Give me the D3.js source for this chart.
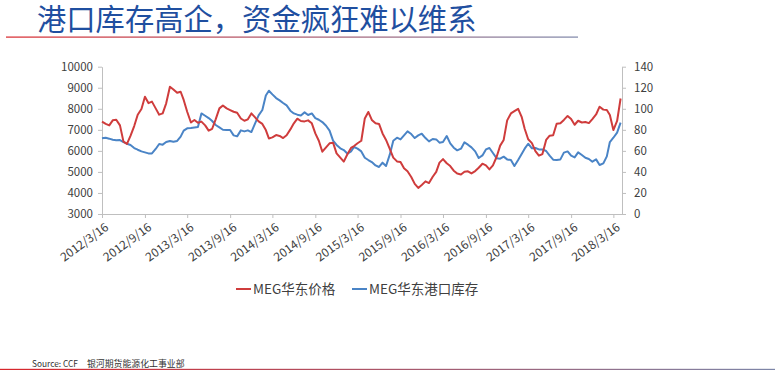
<!DOCTYPE html>
<html>
<head>
<meta charset="utf-8">
<script src="https://cdnjs.cloudflare.com/ajax/libs/d3/7.8.5/d3.min.js"></script>
<style>
  html, body { margin: 0; padding: 0; background: #fff; }
  svg { display: block; font-family: "Noto Sans CJK SC", "Noto Sans", sans-serif; }
</style>
</head>
<body>
<svg id="chart" width="775" height="373"></svg>
<script>
// half-monthly samples
var dates = [
  "2012-03-16","2012-04-01","2012-04-16","2012-05-01","2012-05-16","2012-06-01","2012-06-16","2012-07-01","2012-07-16","2012-08-01","2012-08-16","2012-09-01","2012-09-16","2012-10-01","2012-10-16","2012-11-01","2012-11-16","2012-12-01","2012-12-16",
  "2013-01-01","2013-01-16","2013-02-01","2013-02-16","2013-03-01","2013-03-16","2013-04-01","2013-04-16","2013-05-01","2013-05-16","2013-06-01","2013-06-16","2013-07-01","2013-07-16","2013-08-01","2013-08-16","2013-09-01","2013-09-16","2013-10-01","2013-10-16","2013-11-01","2013-11-16","2013-12-01","2013-12-16",
  "2014-01-01","2014-01-16","2014-02-01","2014-02-16","2014-03-01","2014-03-16","2014-04-01","2014-04-16","2014-05-01","2014-05-16","2014-06-01","2014-06-16","2014-07-01","2014-07-16","2014-08-01","2014-08-16","2014-09-01","2014-09-16","2014-10-01","2014-10-16","2014-11-01","2014-11-16","2014-12-01","2014-12-16",
  "2015-01-01","2015-01-16","2015-02-01","2015-02-16","2015-03-01","2015-03-16","2015-04-01","2015-04-16","2015-05-01","2015-05-16","2015-06-01","2015-06-16","2015-07-01","2015-07-16","2015-08-01","2015-08-16","2015-09-01","2015-09-16","2015-10-01","2015-10-16","2015-11-01","2015-11-16","2015-12-01","2015-12-16",
  "2016-01-01","2016-01-16","2016-02-01","2016-02-16","2016-03-01","2016-03-16","2016-04-01","2016-04-16","2016-05-01","2016-05-16","2016-06-01","2016-06-16","2016-07-01","2016-07-16","2016-08-01","2016-08-16","2016-09-01","2016-09-16","2016-10-01","2016-10-16","2016-11-01","2016-11-16","2016-12-01","2016-12-16",
  "2017-01-01","2017-01-16","2017-02-01","2017-02-16","2017-03-01","2017-03-16","2017-04-01","2017-04-16","2017-05-01","2017-05-16","2017-06-01","2017-06-16","2017-07-01","2017-07-16","2017-08-01","2017-08-16","2017-09-01","2017-09-16","2017-10-01","2017-10-16","2017-11-01","2017-11-16","2017-12-01","2017-12-16",
  "2018-01-01","2018-01-16","2018-02-01","2018-02-16","2018-03-01","2018-03-16","2018-04-01","2018-04-16"
];

// MEG华东价格 (left axis)
var price = [
  7390,7280,7210,7450,7480,7210,6440,6330,6710,7180,
  7720,7990,8570,8270,8340,8020,7720,7780,8260,9050,
  8920,8760,8810,8420,7860,7350,7470,7340,7390,7210,
  6960,7050,7500,8020,8160,8020,7940,7860,7810,7540,
  7430,7500,7780,7590,7400,7280,6990,6590,6640,6750,
  6710,6610,6740,7020,7310,7530,7420,7400,7450,7310,
  6830,6480,5960,6170,6360,6390,5880,5680,5490,5850,
  6140,6230,6360,6480,7540,7850,7470,7310,7280,6830,
  6520,6100,5680,5500,5470,5170,5030,4760,4430,4240,
  4380,4550,4470,4770,5000,5440,5610,5410,5280,5060,
  4920,4880,5010,5030,4930,5040,5200,5390,5310,5120,
  5310,5720,6250,6520,7450,7780,7890,8000,7620,7050,
  6550,6370,5990,5770,5850,6520,6720,6740,7290,7310,
  7470,7660,7510,7240,7430,7350,7370,7320,7510,7730,
  8100,7960,7940,7700,6990,7420,8490
];

// MEG华东港口库存 (right axis)
var stock = [
  71.9,72.5,71.6,70.6,70.0,70.3,68.4,66.8,65.6,62.7,
  61.1,59.5,58.6,57.6,57.6,61.8,66.5,65.9,68.4,69.4,
  68.7,69.4,73.5,79.2,81.4,81.7,82.3,82.7,95.6,93.4,
  91.2,88.4,84.6,82.3,80.1,79.8,79.8,74.7,73.8,79.5,
  78.5,79.5,77.9,86.1,93.7,98.8,112.7,117.2,113.7,110.2,
  108.0,105.5,103.2,98.2,95.6,94.4,93.7,96.6,94.1,95.6,
  91.2,89.6,87.4,83.9,79.2,69.7,65.6,62.4,60.8,57.3,
  59.5,63.7,62.1,59.5,53.5,51.3,49.4,46.2,44.7,48.8,
  45.6,56.4,69.7,72.5,70.9,74.7,78.5,76.0,72.2,74.7,
  76.3,72.2,69.0,71.3,70.9,67.8,68.4,74.1,67.1,63.0,
  60.5,62.1,68.1,65.9,63.3,59.5,53.2,55.7,61.4,62.7,
  58.0,52.9,52.6,54.5,51.9,51.3,45.6,51.3,57.0,62.1,
  66.8,62.4,62.7,61.4,61.4,59.9,55.4,51.6,51.3,51.9,
  58.3,59.5,55.4,53.8,58.6,56.1,53.5,52.3,49.7,51.9,
  46.6,48.1,54.8,68.4,72.5,77.3,86.8
];

var xTickLabels = ["2012/3/16","2012/9/16","2013/3/16","2013/9/16","2014/3/16","2014/9/16","2015/3/16",
  "2015/9/16","2016/3/16","2016/9/16","2017/3/16","2017/9/16","2018/3/16"];
var leftTicks = [3000,4000,5000,6000,7000,8000,9000,10000];
var rightTicks = [0,20,40,60,80,100,120,140];
var seriesNames = ["MEG华东价格", "MEG华东港口库存"];

var svg = d3.select("#chart");
var parseDay = d3.timeParse("%Y-%m-%d"),
  parseTick = d3.timeParse("%Y/%m/%d");

var data = dates.map(function(d, i) {
  return {date: parseDay(d), price: price[i], stock: stock[i]};
});

var margin = {left: 102, right: 622, top: 66.7, bottom: 214};

var x = d3.scaleTime()
  .domain([parseDay("2012-03-16"), parseDay("2018-04-22")])
  .range([margin.left, margin.right]);
var yL = d3.scaleLinear().domain([3000, 10000]).range([margin.bottom, margin.top]);
var yR = d3.scaleLinear().domain([0, 140]).range([margin.bottom, margin.top]);

// gradient rules (title underline and footer line)
var defs = svg.append("defs");
var grad = defs.append("linearGradient").attr("id", "rule").attr("x1", "0%").attr("x2", "100%");
grad.append("stop").attr("offset", "0%").attr("stop-color", "#d8262b");
grad.append("stop").attr("offset", "100%").attr("stop-color", "#7d86a8");

svg.append("text")
  .attr("x", 37).attr("y", 30)
  .attr("font-size", "29.3px")
  .attr("fill", "#1f4fa0")
  .text("港口库存高企，资金疯狂难以维系");

svg.append("rect").attr("x", 6).attr("y", 36.5).attr("width", 572).attr("height", 1.2).attr("fill", "url(#rule)");
svg.append("rect").attr("x", 0).attr("y", 368.8).attr("width", 775).attr("height", 1.2).attr("fill", "url(#rule)");

// axes
function styleAxis(g) {
  g.select(".domain").attr("stroke", "#bfbfbf");
  g.selectAll(".tick line").attr("stroke", "#bfbfbf");
  g.selectAll(".tick text").attr("fill", "#404040").style("font-size", "11.5px")
    .style("font-family", "'Noto Sans CJK SC', sans-serif");
}

svg.append("g")
  .attr("transform", "translate(" + margin.left + ",0)")
  .call(d3.axisLeft(yL).tickValues(leftTicks).tickFormat(d3.format("d"))
    .tickSize(4).tickPadding(5).tickSizeOuter(0))
  .call(styleAxis);

svg.append("g")
  .attr("transform", "translate(" + margin.right + ",0)")
  .call(d3.axisRight(yR).tickValues(rightTicks).tickSize(4).tickPadding(8).tickSizeOuter(0))
  .call(styleAxis);

var xAxis = svg.append("g")
  .attr("transform", "translate(0," + margin.bottom + ")")
  .call(d3.axisBottom(x)
    .tickValues(xTickLabels.map(function(s) { return parseTick(s); }))
    .tickFormat(function(d, i) { return xTickLabels[i]; })
    .tickSize(4).tickSizeOuter(0))
  .call(styleAxis);

xAxis.selectAll(".tick text")
  .attr("text-anchor", "end")
  .attr("dy", null)
  .attr("y", 0)
  .style("font-size", "12px")
  .attr("transform", "translate(7,15) rotate(-36)");

// lines
var priceLine = d3.line()
  .x(function(d) { return x(d.date); })
  .y(function(d) { return yL(d.price); });
var stockLine = d3.line()
  .x(function(d) { return x(d.date); })
  .y(function(d) { return yR(d.stock); });

svg.append("path").datum(data)
  .attr("fill", "none").attr("stroke", "#4a84c6").attr("stroke-width", 2)
  .attr("stroke-linejoin", "round")
  .attr("d", stockLine);

svg.append("path").datum(data)
  .attr("fill", "none").attr("stroke", "#cf3c3c").attr("stroke-width", 2)
  .attr("stroke-linejoin", "round")
  .attr("d", priceLine);

// legend
var legendColors = ["#cf3c3c", "#4a84c6"];
var legendX = [236, 352];
var legend = svg.selectAll(".legend")
  .data(seriesNames)
  .enter().append("g")
  .attr("class", "legend")
  .attr("transform", function(d, i) { return "translate(" + legendX[i] + ",289)"; });

legend.append("line")
  .attr("x1", 0).attr("x2", 15).attr("y1", 0).attr("y2", 0)
  .attr("stroke", function(d, i) { return legendColors[i]; })
  .attr("stroke-width", 2);

legend.append("text")
  .attr("x", 17).attr("y", 4.5)
  .attr("font-size", "13.5px")
  .attr("fill", "#404040")
  .text(function(d) { return d; });

svg.append("text")
  .attr("x", 32).attr("y", 366.5)
  .attr("font-size", "8.3px")
  .attr("fill", "#333")
  .text("Source: CCF");
svg.append("text")
  .attr("x", 87).attr("y", 366.5)
  .attr("font-size", "8.9px")
  .attr("fill", "#333")
  .text("银河期货能源化工事业部");
</script>
</body>
</html>
